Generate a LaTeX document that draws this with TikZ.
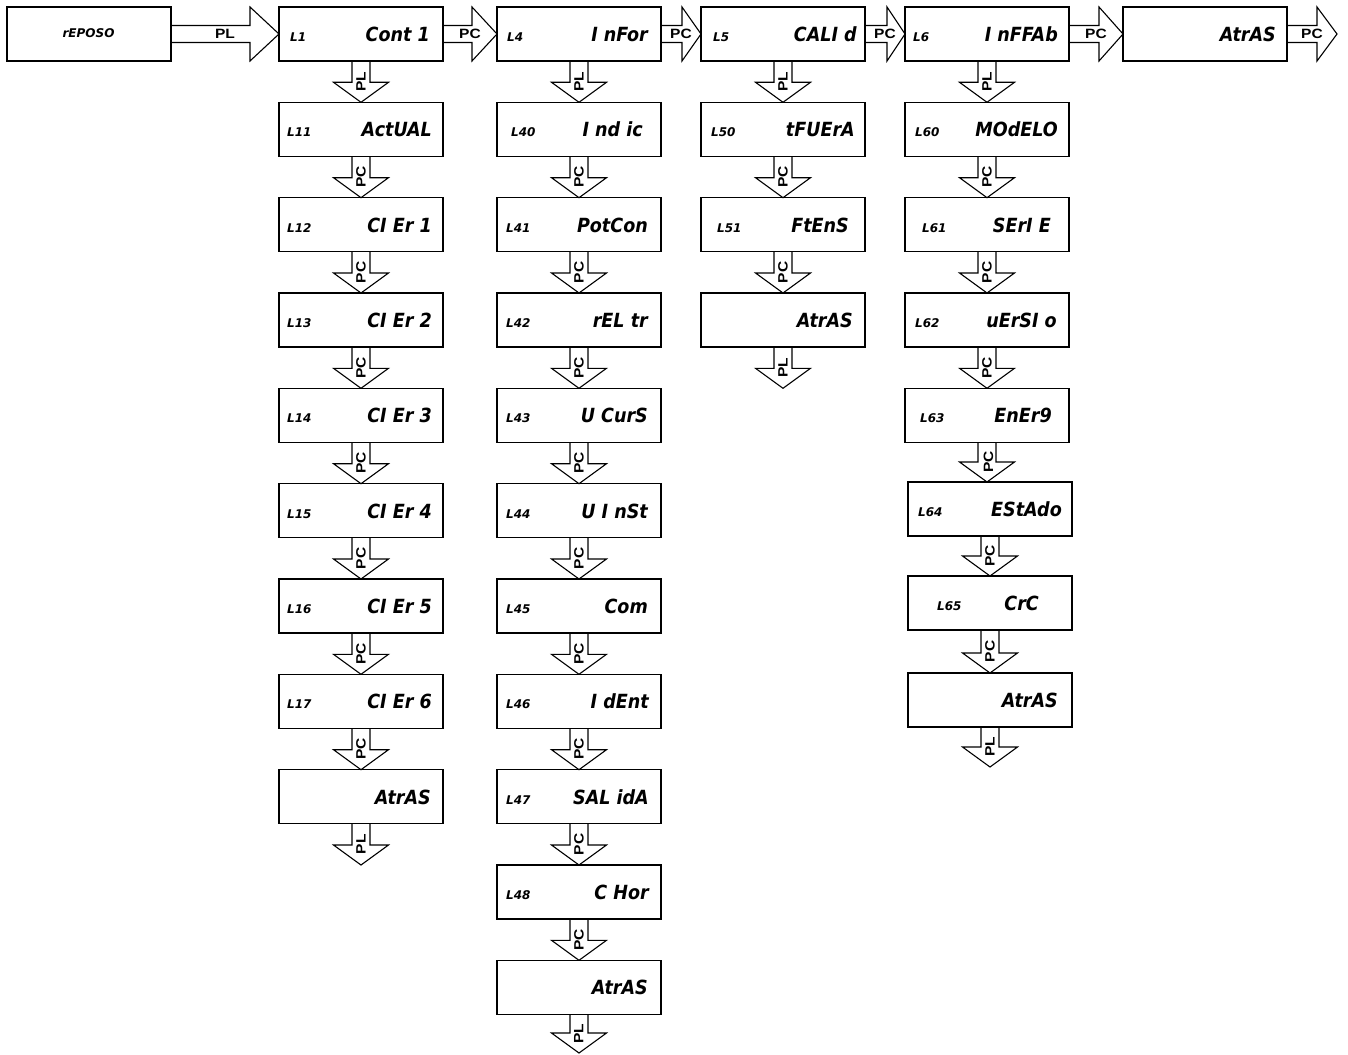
\documentclass[tikz,border=0pt]{standalone}
\usepackage{fontspec}
\usetikzlibrary{calc}
\newfontfamily\segfont{DejaVu Sans}[FakeStretch=0.9]
\newfontfamily\codefont{DejaVu Sans}
\newfontfamily\lblfont{Liberation Sans}[FakeStretch=1.15]
\tikzset{
  box/.style={draw, line width=1.3pt, minimum width=164pt, minimum height=54pt, inner sep=0pt, outer sep=0pt, anchor=north west},
  maintxt/.style={font=\segfont\bfseries\itshape\fontsize{19.5}{20}\selectfont, inner sep=0pt, anchor=base east},
  codetxt/.style={font=\codefont\bfseries\itshape\fontsize{12}{12}\selectfont, inner sep=0pt, anchor=base west},
  arrlbl/.style={font=\lblfont\bfseries\fontsize{13.5}{13.5}\selectfont, inner sep=0pt},
  blk/.style={draw, line width=1.1pt, line join=miter},
}
% name, x, y, code x, code, main right x, main text
\newcommand\mkdisp[7]{%
  \node[box] (#1) at (#2,#3) {};
  \node[codetxt] (#1c) at (#4,#3+34.5) {#5};
  \node[maintxt] (#1m) at (#6,#3+34.5) {#7};
}
% horizontal block arrow: from anchor, to anchor, head length, label
\newcommand\harr[4]{%
  \draw[blk] let \p1=(#1), \p2=(#2) in
    (\x1,\y1+8.5pt) -- (\x2-#3pt,\y1+8.5pt) -- (\x2-#3pt,\y1+27pt) -- (\x2,\y1)
    -- (\x2-#3pt,\y1-27pt) -- (\x2-#3pt,\y1-8.5pt) -- (\x1,\y1-8.5pt);
  \node[arrlbl] at ($(#1)!0.5!(#2)$) {#4};
}
% vertical block arrow: from anchor, to anchor, label
\newcommand\varr[3]{%
  \draw[blk] let \p1=(#1), \p2=(#2) in
    (\x1-9pt,\y1) -- (\x1-9pt,\y2+20pt) -- (\x1-27.5pt,\y2+20pt) -- (\x1,\y2)
    -- (\x1+27.5pt,\y2+20pt) -- (\x1+9pt,\y2+20pt) -- (\x1+9pt,\y1);
  \node[arrlbl, rotate=90] at ($(#1)!0.5!(#2)$) {#3};
}
\begin{document}
\begin{tikzpicture}[x=1pt,y=-1pt]
\useasboundingbox (0,0) rectangle (1348,1054);
\fill[white] (0,0) rectangle (1348,1054);

% top row
\node[box] (rep) at (7,7) {};
\node[codetxt, anchor=base] (repc) at (88.5,38) {rEPOSO};
\mkdisp{n1}{279}{7}{290}{L1}{430}{Cont 1}
\mkdisp{n4}{497}{7}{507}{L4}{648}{I nFor}
\mkdisp{n5}{701}{7}{713}{L5}{857}{CALI d}
\mkdisp{n6}{905}{7}{913}{L6}{1058}{I nFFAb}
\mkdisp{atr}{1123}{7}{1133}{}{1276}{AtrAS}
\coordinate (topend) at (1337,34);

% column L1
\mkdisp{n11}{279}{102.3}{287}{L11}{432}{ActUAL}
\mkdisp{n12}{279}{197.7}{287}{L12}{432}{CI Er 1}
\mkdisp{n13}{279}{293}{287}{L13}{432}{CI Er 2}
\mkdisp{n14}{279}{388.3}{287}{L14}{432}{CI Er 3}
\mkdisp{n15}{279}{483.7}{287}{L15}{432}{CI Er 4}
\mkdisp{n16}{279}{579}{287}{L16}{432}{CI Er 5}
\mkdisp{n17}{279}{674.3}{287}{L17}{432}{CI Er 6}
\mkdisp{n1a}{279}{769.7}{287}{}{431}{AtrAS}
\coordinate (end1) at (361,865);

% column L4
\mkdisp{n40}{497}{102.3}{511}{L40}{643}{I nd ic}
\mkdisp{n41}{497}{197.7}{506}{L41}{648}{PotCon}
\mkdisp{n42}{497}{293}{506}{L42}{648}{rEL tr}
\mkdisp{n43}{497}{388.3}{506}{L43}{648}{U CurS}
\mkdisp{n44}{497}{483.7}{506}{L44}{648}{U I nSt}
\mkdisp{n45}{497}{579}{506}{L45}{648}{Com}
\mkdisp{n46}{497}{674.3}{506}{L46}{649}{I dEnt}
\mkdisp{n47}{497}{769.7}{506}{L47}{649}{SAL idA}
\mkdisp{n48}{497}{865}{506}{L48}{649}{C Hor}
\mkdisp{n4a}{497}{960.3}{506}{}{648}{AtrAS}
\coordinate (end4) at (578.5,1053);

% column L5
\mkdisp{n50}{701}{102.3}{711}{L50}{855}{tFUErA}
\mkdisp{n51}{701}{197.7}{717}{L51}{849}{FtEnS}
\mkdisp{n5a}{701}{293}{711}{}{853}{AtrAS}
\coordinate (end5) at (783,388.3);

% column L6
\mkdisp{n60}{905}{102.3}{915}{L60}{1058}{MOdELO}
\mkdisp{n61}{905}{197.7}{922}{L61}{1051}{SErI E}
\mkdisp{n62}{905}{293}{915}{L62}{1057}{uErSI o}
\mkdisp{n63}{905}{388.3}{920}{L63}{1052}{EnEr9}
\mkdisp{n64}{908}{482}{918}{L64}{1062}{EStAdo}
\mkdisp{n65}{908}{576}{937}{L65}{1039}{CrC}
\mkdisp{n6a}{908}{673}{918}{}{1058}{AtrAS}
\coordinate (end6) at (990,767);

% horizontal arrows
\harr{rep.east}{n1.west}{29}{PL}
\harr{n1.east}{n4.west}{25}{PC}
\harr{n4.east}{n5.west}{19}{PC}
\harr{n5.east}{n6.west}{18}{PC}
\harr{n6.east}{atr.west}{24}{PC}
\harr{atr.east}{topend}{20}{PC}

% column L1 arrows
\varr{n1.south}{n11.north}{PL}
\varr{n11.south}{n12.north}{PC}
\varr{n12.south}{n13.north}{PC}
\varr{n13.south}{n14.north}{PC}
\varr{n14.south}{n15.north}{PC}
\varr{n15.south}{n16.north}{PC}
\varr{n16.south}{n17.north}{PC}
\varr{n17.south}{n1a.north}{PC}
\varr{n1a.south}{end1}{PL}

% column L4 arrows
\varr{n4.south}{n40.north}{PL}
\varr{n40.south}{n41.north}{PC}
\varr{n41.south}{n42.north}{PC}
\varr{n42.south}{n43.north}{PC}
\varr{n43.south}{n44.north}{PC}
\varr{n44.south}{n45.north}{PC}
\varr{n45.south}{n46.north}{PC}
\varr{n46.south}{n47.north}{PC}
\varr{n47.south}{n48.north}{PC}
\varr{n48.south}{n4a.north}{PC}
\varr{n4a.south}{end4}{PL}

% column L5 arrows
\varr{n5.south}{n50.north}{PL}
\varr{n50.south}{n51.north}{PC}
\varr{n51.south}{n5a.north}{PC}
\varr{n5a.south}{end5}{PL}

% column L6 arrows
\varr{n6.south}{n60.north}{PL}
\varr{n60.south}{n61.north}{PC}
\varr{n61.south}{n62.north}{PC}
\varr{n62.south}{n63.north}{PC}
\varr{n63.south}{n64.north}{PC}
\varr{n64.south}{n65.north}{PC}
\varr{n65.south}{n6a.north}{PC}
\varr{n6a.south}{end6}{PL}
\end{tikzpicture}
\end{document}
